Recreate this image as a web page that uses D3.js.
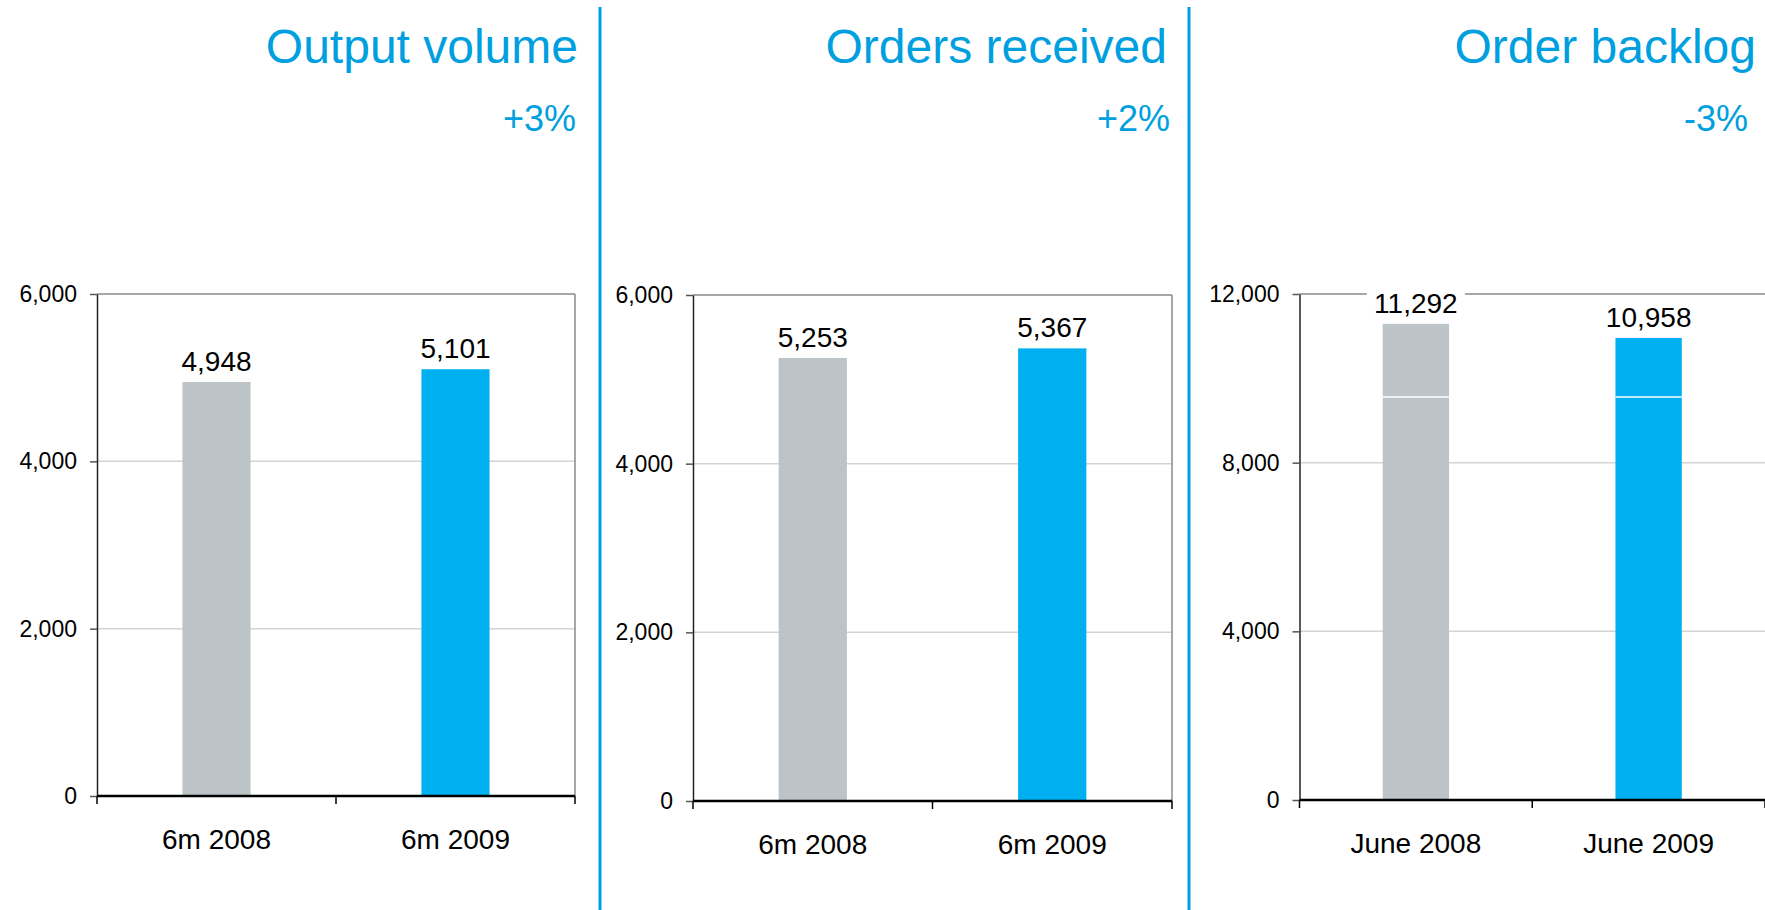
<!DOCTYPE html>
<html>
<head>
<meta charset="utf-8">
<script src="https://cdn.jsdelivr.net/npm/d3@7"></script>
<style>
  html, body { margin: 0; padding: 0; background: #fff; }
  svg { display: block; font-family: "Liberation Sans", Arial, sans-serif; }
</style>
</head>
<body>
<svg id="chart" width="1765" height="910"></svg>
<script>
// data
const titles = ['Output volume', 'Orders received', 'Order backlog'];
const changes = ['+3%', '+2%', '-3%'];
const periodCats = ['6m 2008', '6m 2009'];
const backlogCats = ['June 2008', 'June 2009'];
const outputVolume = [4948, 5101];
const ordersReceived = [5253, 5367];
const orderBacklog = [11292, 10958];
const backlogLowerPart = [9555, 9555]; // thin white split inside the backlog bars
const ticks6k = [0, 2000, 4000, 6000];
const ticks12k = [0, 4000, 8000, 12000];

const barColors = ['#bdc4c7', '#00b0f0'];
const accent = '#009fe0';

const svg = d3.select('#chart');

// panel boxes (plot area in page pixels)
const panels = [
  { title: titles[0], change: changes[0], cats: periodCats, values: outputVolume, ticks: ticks6k,
    left: 97, right: 575, top: 294, bottom: 796, titleX: 578, changeX: 576, border: true },
  { title: titles[1], change: changes[1], cats: periodCats, values: ordersReceived, ticks: ticks6k,
    left: 693, right: 1172, top: 295, bottom: 801, titleX: 1167, changeX: 1170, border: true },
  { title: titles[2], change: changes[2], cats: backlogCats, values: orderBacklog, ticks: ticks12k,
    split: backlogLowerPart,
    left: 1299.5, right: 1765, top: 294, bottom: 800, titleX: 1756, changeX: 1748, border: false }
];

function drawPanel(p) {
  const g = svg.append('g');

  const x = d3.scaleBand()
    .domain(p.cats)
    .range([p.left, p.right])
    .paddingInner(0.715)
    .paddingOuter(0.3575);

  const y = d3.scaleLinear()
    .domain([0, d3.max(p.ticks)])
    .range([p.bottom, p.top]);

  // titles
  g.append('text')
    .attr('x', p.titleX).attr('y', 63)
    .attr('text-anchor', 'end')
    .attr('font-size', 48)
    .attr('fill', accent)
    .text(p.title);

  g.append('text')
    .attr('x', p.changeX).attr('y', 131)
    .attr('text-anchor', 'end')
    .attr('font-size', 36)
    .attr('fill', accent)
    .text(p.change);

  // gridlines
  g.selectAll('.grid')
    .data(p.ticks.filter(t => t > 0 && t < d3.max(p.ticks)))
    .join('line')
    .attr('x1', p.left).attr('x2', p.right)
    .attr('y1', d => y(d)).attr('y2', d => y(d))
    .attr('stroke', '#d4d4d4')
    .attr('stroke-width', 1.5);

  // bars
  g.selectAll('.bar')
    .data(p.values)
    .join('rect')
    .attr('x', (d, i) => x(p.cats[i]))
    .attr('width', x.bandwidth())
    .attr('y', d => y(d))
    .attr('height', d => y(0) - y(d))
    .attr('fill', (d, i) => barColors[i]);

  if (p.split) {
    g.selectAll('.split')
      .data(p.split)
      .join('line')
      .attr('x1', (d, i) => x(p.cats[i]))
      .attr('x2', (d, i) => x(p.cats[i]) + x.bandwidth())
      .attr('y1', d => y(d)).attr('y2', d => y(d))
      .attr('stroke', '#fff')
      .attr('stroke-width', 1.5);
  }

  // plot frame: top and right in grey
  const ymax = d3.max(p.ticks);
  g.append('line')
    .attr('x1', p.left).attr('x2', p.right)
    .attr('y1', y(ymax)).attr('y2', y(ymax))
    .attr('stroke', '#8a8a8a').attr('stroke-width', 1.5);
  if (p.border) {
    g.append('line')
      .attr('x1', p.right).attr('x2', p.right)
      .attr('y1', y(ymax)).attr('y2', y(0))
      .attr('stroke', '#8a8a8a').attr('stroke-width', 1.5);
  }

  // y axis
  const yAxis = g.append('g')
    .attr('transform', `translate(${p.left},0)`)
    .call(d3.axisLeft(y)
      .tickValues(p.ticks)
      .tickFormat(d3.format(','))
      .tickSize(7)
      .tickSizeOuter(0)
      .tickPadding(13));
  yAxis.select('.domain').attr('stroke', '#222').attr('stroke-width', 1.5);
  yAxis.selectAll('.tick line').attr('stroke', '#555').attr('stroke-width', 1.5);
  yAxis.selectAll('.tick text')
    .attr('font-size', 23)
    .attr('font-family', '"Liberation Sans", Arial, sans-serif')
    .attr('fill', '#000');

  // x axis: baseline with ticks at band edges
  g.append('line')
    .attr('x1', p.left).attr('x2', p.right)
    .attr('y1', y(0)).attr('y2', y(0))
    .attr('stroke', '#000').attr('stroke-width', 2.5);

  const edges = [p.left, (x(p.cats[0]) + x(p.cats[1]) + x.bandwidth()) / 2, p.right];
  g.selectAll('.xtick')
    .data(edges)
    .join('line')
    .attr('x1', d => d).attr('x2', d => d)
    .attr('y1', y(0)).attr('y2', y(0) + 8)
    .attr('stroke', '#000').attr('stroke-width', 1.5);

  g.selectAll('.cat')
    .data(p.cats)
    .join('text')
    .attr('x', d => x(d) + x.bandwidth() / 2)
    .attr('y', y(0) + 53)
    .attr('text-anchor', 'middle')
    .attr('font-size', 28)
    .attr('fill', '#000')
    .text(d => d);

  // value labels on white boxes
  const fmt = d3.format(',');
  const lab = g.selectAll('.val')
    .data(p.values)
    .join('g')
    .attr('transform', (d, i) => `translate(${x(p.cats[i]) + x.bandwidth() / 2},${y(d) - 11})`);
  lab.append('rect')
    .attr('x', -49).attr('width', 98)
    .attr('y', -31).attr('height', 38)
    .attr('fill', '#fff');
  lab.append('text')
    .attr('text-anchor', 'middle')
    .attr('font-size', 28)
    .attr('fill', '#000')
    .text(d => fmt(d));
}

panels.forEach(drawPanel);

// blue separators between panels
svg.selectAll('.sep')
  .data([600, 1189])
  .join('line')
  .attr('x1', d => d).attr('x2', d => d)
  .attr('y1', 7).attr('y2', 910)
  .attr('stroke', accent)
  .attr('stroke-width', 3);
</script>
</body>
</html>
